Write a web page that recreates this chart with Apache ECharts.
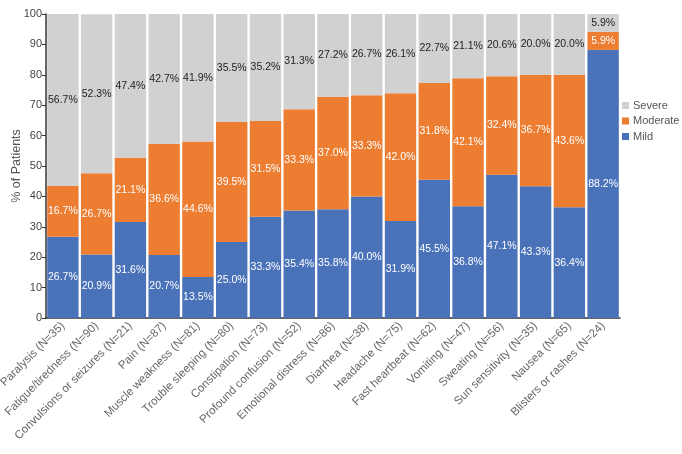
<!DOCTYPE html>
<html>
<head>
<meta charset="utf-8">
<script src="https://cdn.jsdelivr.net/npm/echarts@6/dist/echarts.min.js"></script>
<style>
    html, body { margin: 0; padding: 0; background: #fff; }
    #main { width: 682px; height: 454px; }
</style>
</head>
<body>
<div id="main"></div>
<script>
var categories = ['Paralysis (N=35)', 'Fatigue/tiredness (N=90)', 'Convulsions or seizures (N=21)', 'Pain (N=87)',
    'Muscle weakness (N=81)', 'Trouble sleeping (N=80)', 'Constipation (N=73)', 'Profound confusion (N=52)',
    'Emotional distress (N=86)', 'Diarrhea (N=38)', 'Headache (N=75)', 'Fast heartbeat (N=62)',
    'Vomiting (N=47)', 'Sweating (N=56)', 'Sun sensitivity (N=35)', 'Nausea (N=65)', 'Blisters or rashes (N=24)'];
var mild = [26.7, 20.9, 31.6, 20.7, 13.5, 25.0, 33.3, 35.4, 35.8, 40.0, 31.9, 45.5, 36.8, 47.1, 43.3, 36.4, 88.2];
var moderate = [16.7, 26.7, 21.1, 36.6, 44.6, 39.5, 31.5, 33.3, 37.0, 33.3, 42.0, 31.8, 42.1, 32.4, 36.7, 43.6, 5.9];
var severe = [56.7, 52.3, 47.4, 42.7, 41.9, 35.5, 35.2, 31.3, 27.2, 26.7, 26.1, 22.7, 21.1, 20.6, 20.0, 20.0, 5.9];
var yTicks = [0, 10, 20, 30, 40, 50, 60, 70, 80, 90, 100];

var font = 'Liberation Sans, Arial, sans-serif';
var myChart = echarts.init(document.getElementById('main'));

// 每段柱子的百分比标签
function barLabel(color) {
    return {
        show: true,
        position: 'inside',
        color: color,
        fontSize: 10.5,
        fontFamily: font,
        formatter: function (p) { return p.value.toFixed(1) + '%'; }
    };
}

var option = {
    animation: false,
    textStyle: { fontFamily: font },
    color: ['#4a72b9', '#ec7d31', '#d1d1d1'],
    legend: {
        orient: 'vertical',
        left: 622,
        top: 100,
        padding: 0,
        itemWidth: 7,
        itemHeight: 7,
        itemGap: 4.5,
        icon: 'rect',
        data: ['Severe', 'Moderate', 'Mild'],
        textStyle: { color: '#555', fontSize: 11, fontFamily: font, padding: [0, 0, 0, -1] }
    },
    grid: { left: 46, top: 14, right: 62, bottom: 136, outerBoundsMode: 'none' },
    xAxis: {
        type: 'category',
        data: categories,
        axisLine: { lineStyle: { color: '#333', width: 1.5 } },
        axisTick: { show: false },
        axisLabel: { rotate: 45, interval: 0, color: '#666', fontSize: 11.5, fontFamily: font, margin: 6 }
    },
    yAxis: {
        type: 'value',
        min: yTicks[0],
        max: yTicks[yTicks.length - 1],
        interval: yTicks[1] - yTicks[0],
        name: '% of Patients',
        nameLocation: 'middle',
        nameRotate: 90,
        nameGap: 23,
        nameMoveOverlap: false,
        nameTextStyle: { color: '#555', fontSize: 12.5, fontFamily: font },
        axisLine: { show: true, lineStyle: { color: '#333', width: 1.5 } },
        axisTick: { show: true, length: 4, lineStyle: { color: '#333' } },
        axisLabel: { color: '#444', fontSize: 11, fontFamily: font, margin: 4 },
        splitLine: { show: false }
    },
    series: [
        { name: 'Mild', type: 'bar', stack: 'all', data: mild, barCategoryGap: '7%', label: barLabel('#fff') },
        { name: 'Moderate', type: 'bar', stack: 'all', data: moderate, label: barLabel('#fff') },
        { name: 'Severe', type: 'bar', stack: 'all', data: severe, label: barLabel('#222') }
    ]
};
myChart.setOption(option, true);
</script>
</body>
</html>
